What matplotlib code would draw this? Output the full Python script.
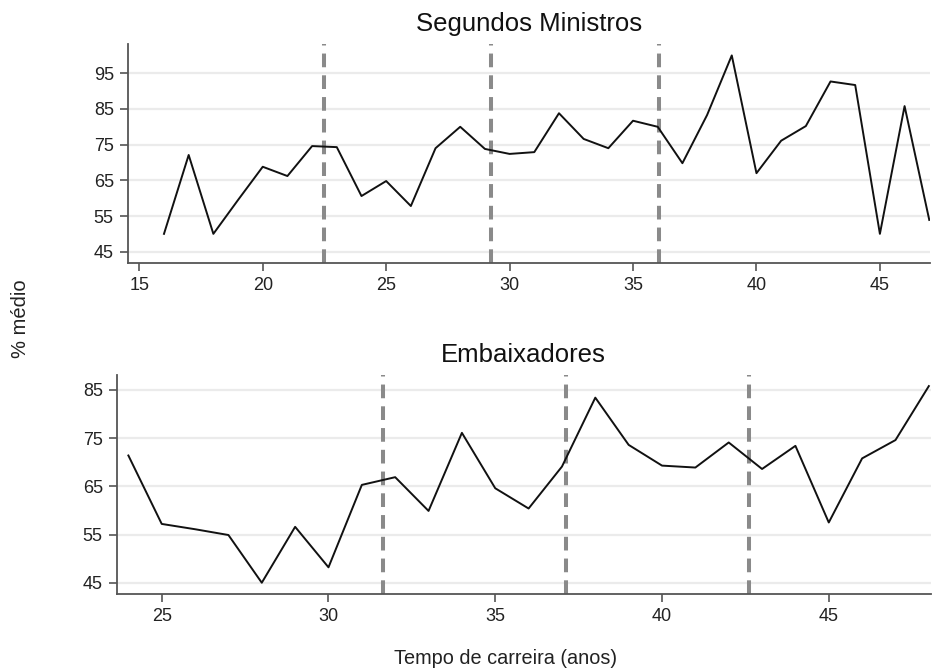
import matplotlib
matplotlib.use("Agg")
import matplotlib.pyplot as plt

plt.rcParams['font.family'] = ['Liberation Sans', 'DejaVu Sans']

# Segundos Ministros: average % by career length (years)
sm_years = [16, 17, 18, 19, 20, 21, 22, 23, 24, 25, 26, 27, 28, 29, 30, 31,
            32, 33, 34, 35, 36, 37, 38, 39, 40, 41, 42, 43, 44, 45, 46, 47]
sm_values = [50.0, 72.1, 50.0, 59.5, 68.8, 66.2, 74.6, 74.3, 60.6, 64.8, 57.8,
             74.0, 80.0, 73.8, 72.4, 72.9, 83.8, 76.6, 74.0, 81.7, 80.0, 69.8,
             83.3, 100.0, 67.0, 76.1, 80.2, 92.7, 91.7, 50.0, 85.8, 53.9]
sm_cuts = [22.5, 29.25, 36.05]
sm_yticks = [45, 55, 65, 75, 85, 95]
sm_xticks = [15, 20, 25, 30, 35, 40, 45]

# Embaixadores: average % by career length (years)
emb_years = [24, 25, 26, 27, 28, 29, 30, 31, 32, 33, 34, 35, 36, 37, 38, 39,
             40, 41, 42, 43, 44, 45, 46, 47, 48]
emb_values = [71.4, 57.2, 56.1, 54.9, 45.0, 56.6, 48.2, 65.3, 66.9, 59.9, 76.1,
              64.6, 60.4, 69.1, 83.4, 73.6, 69.3, 68.9, 74.1, 68.6, 73.4, 57.5,
              70.8, 74.6, 85.8]
emb_cuts = [31.63, 37.13, 42.6]
emb_yticks = [45, 55, 65, 75, 85]
emb_xticks = [25, 30, 35, 40, 45]

W, H = 932, 668
fig = plt.figure(figsize=(W / 100, H / 100), dpi=100)
fig.patch.set_facecolor('white')


def panel(rect_px, years, values, cuts, yticks, xticks, xlim, ylim, title):
    l, t, r, b = rect_px
    ax = fig.add_axes([l / W, 1 - b / H, (r - l) / W, (b - t) / H])
    ax.set_xlim(*xlim)
    ax.set_ylim(*ylim)
    ax.set_yticks(yticks)
    ax.set_xticks(xticks)
    for yv in yticks:
        ax.axhline(yv, color='#ebebeb', lw=1.6, zorder=0)
    for xc in cuts:
        ax.axvline(xc, color='#8a8a8a', lw=2.9, dashes=(3.4, 2.0), zorder=1)
    ax.plot(years, values, color='#111111', lw=1.4, zorder=3)
    for side in ('top', 'right'):
        ax.spines[side].set_visible(False)
    for side in ('left', 'bottom'):
        ax.spines[side].set_color('#555555')
        ax.spines[side].set_linewidth(1.3)
    ax.tick_params(axis='both', colors='#555555', length=6, width=1.2,
                   labelsize=13, labelcolor='#222222', pad=4)
    ax.set_title(title, fontsize=18.5, color='#111111', pad=9)
    return ax


panel((127.7, 44, 930.5, 263.3), sm_years, sm_values, sm_cuts, sm_yticks,
      sm_xticks, (14.53, 47.05), (41.75, 103.2), 'Segundos Ministros')
panel((116.7, 375, 930.5, 594.3), emb_years, emb_values, emb_cuts, emb_yticks,
      emb_xticks, (23.65, 48.05), (42.6, 88.1), 'Embaixadores')

fig.text(20 / W, 1 - 319 / H, '% médio', rotation=90, ha='center',
         va='center', fontsize=14.5, color='#222222')
fig.text(506 / W, 1 - 659 / H, 'Tempo de carreira (anos)', ha='center',
         va='center', fontsize=14.3, color='#222222')

fig.savefig('out.png', dpi=100, facecolor='white')
